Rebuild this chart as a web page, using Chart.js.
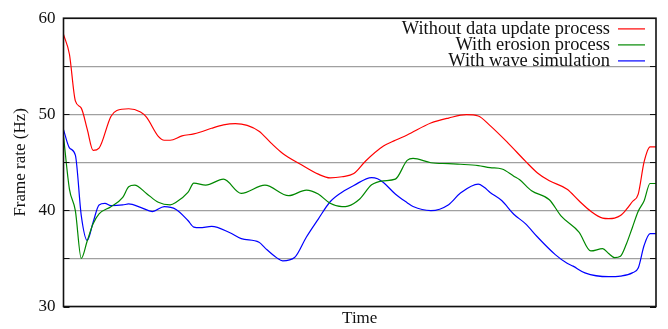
<!DOCTYPE html>
<html>
<head>
<meta charset="utf-8">
<script src="https://cdn.jsdelivr.net/npm/chart.js@4/dist/chart.umd.min.js"></script>
<style>
  html, body { margin: 0; padding: 0; background: #fff; }
</style>
</head>
<body>
<canvas id="fps-chart" width="668" height="329"></canvas>
<script>
"use strict";

const seriesNames = ['Without data update process', 'With erosion process', 'With wave simulation'];
const seriesColors = ['#ff0000', '#008800', '#0000ff'];

// time samples (0..100) and frame rate readings per series
const noUpdateTime = [0, 1, 2, 3, 4, 5, 6, 8, 9, 11, 13, 14, 16, 17, 18, 20, 22, 23, 25, 27, 29, 31, 33, 35, 37, 40, 43, 45, 47, 49, 51, 54, 56, 58, 62, 65, 68, 70, 72, 75, 78, 80, 82, 85, 87, 89, 91, 92, 93, 94, 95, 96, 97, 98, 99, 100];
const noUpdateRate = [58.3, 56.25, 51.4, 50.64, 48.45, 46.24, 46.48, 49.78, 50.4, 50.58, 50.23, 49.7, 47.7, 47.3, 47.3, 47.75, 47.96, 48.13, 48.55, 48.9, 49.03, 48.85, 48.24, 47.03, 45.93, 44.8, 43.77, 43.38, 43.5, 43.83, 45.14, 46.69, 47.3, 47.85, 49.09, 49.61, 49.96, 49.82, 48.82, 47.03, 45.1, 43.9, 43.08, 42.2, 41.0, 39.91, 39.2, 39.15, 39.2, 39.46, 40.1, 40.9, 41.7, 45.07, 46.62, 46.62];

const erosionTime = [0, 1, 2, 3, 4, 5, 6, 8, 10, 11, 12, 14, 16, 18, 19, 21, 22, 24, 27, 30, 34, 38, 41, 43, 45, 47, 48, 50, 52, 54, 56, 58, 59, 62, 65, 67, 70, 72, 74, 76, 77, 79, 82, 84, 87, 89, 91, 92, 93, 94, 95, 96, 97, 98, 99, 100];
const erosionRate = [47.72, 42.22, 39.98, 35.0, 36.81, 38.6, 39.64, 40.39, 41.35, 42.46, 42.63, 41.77, 40.84, 40.57, 40.84, 41.87, 42.84, 42.63, 43.25, 41.77, 42.63, 41.53, 42.11, 41.7, 40.74, 40.39, 40.45, 41.19, 42.66, 43.08, 43.25, 45.2, 45.41, 44.96, 44.86, 44.8, 44.66, 44.45, 44.31, 43.56, 43.18, 42.04, 41.11, 39.4, 37.74, 35.78, 36.02, 35.51, 35.09, 35.23, 36.5, 38.2, 39.91, 41.01, 42.8, 42.8];

const waveTime = [0, 1, 2, 3, 4, 5, 6, 7, 8, 10, 11, 13, 15, 17, 19, 21, 22, 23, 25, 28, 30, 33, 34, 36, 37, 39, 41, 43, 45, 47, 49, 52, 53, 54, 56, 58, 59, 62, 65, 67, 70, 71, 72, 74, 76, 78, 80, 83, 85, 86, 88, 92, 94, 96, 97, 98, 99, 100];
const waveRate = [48.41, 46.51, 45.76, 39.46, 36.88, 38.77, 40.57, 40.74, 40.5, 40.57, 40.67, 40.32, 39.88, 40.39, 40.1, 38.95, 38.26, 38.2, 38.33, 37.7, 37.06, 36.68, 36.1, 35.06, 34.75, 35.09, 37.23, 39.1, 40.9, 41.9, 42.6, 43.42, 43.3, 42.9, 41.7, 40.8, 40.4, 39.98, 40.6, 41.8, 42.73, 42.4, 41.87, 41.0, 39.6, 38.6, 37.23, 35.4, 34.5, 34.2, 33.5, 33.1, 33.17, 33.5, 34.0, 36.37, 37.58, 37.58];

const yMin = 30;
const yMax = 60;
const yStep = 5;

function toPoints(times, rates) {
    return times.map((t, i) => ({ x: t, y: rates[i] }));
}

const allTimes = [noUpdateTime, erosionTime, waveTime];
const allRates = [noUpdateRate, erosionRate, waveRate];

const datasets = [];
for (let i = 0; i < seriesNames.length; i++) {
    datasets.push({
        label: seriesNames[i],
        data: toPoints(allTimes[i], allRates[i]),
        borderColor: seriesColors[i],
        backgroundColor: seriesColors[i],
        borderWidth: 1.2,
        pointRadius: 0,
        cubicInterpolationMode: 'monotone',
        fill: false,
    });
}

const serif = '"Liberation Serif", "DejaVu Serif", serif';

// frame, inner tick marks and the key, drawn like the original plot
const framePlugin = {
    id: 'frame',
    afterDraw(chart) {
        const ctx = chart.ctx;
        const a = chart.chartArea;
        const y = chart.scales.y;
        ctx.save();
        ctx.strokeStyle = '#111';
        ctx.lineWidth = 1;
        y.ticks.forEach(t => {
            const py = Math.round(y.getPixelForValue(t.value)) + 0.5;
            ctx.beginPath();
            ctx.moveTo(a.left, py);
            ctx.lineTo(a.left + 6, py);
            ctx.moveTo(a.right - 6, py);
            ctx.lineTo(a.right, py);
            ctx.stroke();
        });
        ctx.lineWidth = 1.6;
        ctx.strokeRect(a.left, a.top, a.right - a.left, a.bottom - a.top);

        ctx.font = '18.4px ' + serif;
        ctx.textAlign = 'right';
        ctx.textBaseline = 'alphabetic';
        chart.data.datasets.forEach((ds, i) => {
            const ly = a.top + 10.7 + i * 16;
            ctx.fillStyle = '#111';
            ctx.fillText(ds.label, a.right - 46, ly + 5.5);
            ctx.strokeStyle = ds.borderColor;
            ctx.lineWidth = 1.2;
            ctx.beginPath();
            ctx.moveTo(a.right - 38, ly);
            ctx.lineTo(a.right - 11, ly);
            ctx.stroke();
        });
        ctx.restore();
    }
};

new Chart(document.getElementById('fps-chart'), {
    type: 'line',
    data: { datasets: datasets },
    options: {
        responsive: false,
        animation: false,
        layout: { padding: { left: 0, top: 16, right: 12, bottom: 0 } },
        plugins: {
            legend: { display: false },
            tooltip: { enabled: false },
        },
        scales: {
            x: {
                type: 'linear',
                min: 0,
                max: 100,
                ticks: { display: false },
                grid: { display: false },
                border: { display: false },
                title: {
                    display: true,
                    text: 'Time',
                    color: '#111',
                    font: { family: serif, size: 17 },
                    padding: { top: 0, bottom: 0 },
                },
                afterFit(scale) { scale.height = 22.5; },
            },
            y: {
                min: yMin,
                max: yMax,
                ticks: {
                    stepSize: yStep,
                    padding: 8,
                    color: '#111',
                    font: { family: serif, size: 17 },
                    callback: v => (v % 10 === 0 ? v : ''),
                },
                grid: { color: '#a0a0a0', lineWidth: 1.2, drawTicks: false },
                border: { display: false },
                title: {
                    display: true,
                    text: 'Frame rate (Hz)',
                    color: '#111',
                    font: { family: serif, size: 17 },
                    padding: { top: 10, bottom: 0 },
                },
                afterFit(scale) { scale.width = 63.5; },
            },
        },
    },
    plugins: [framePlugin],
});
</script>
</body>
</html>
